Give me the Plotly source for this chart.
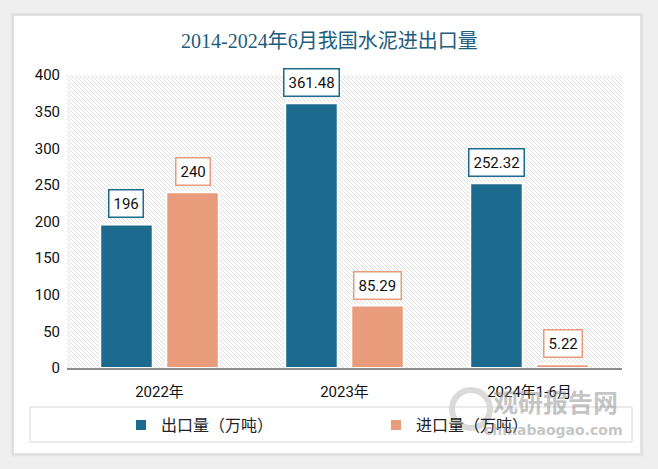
import base64
import plotly.graph_objects as go

categories = ["2022年", "2023年", "2024年1-6月"]
export_vals = [196, 361.48, 252.32]
import_vals = [240, 85.29, 5.22]
export_labels = ["196", "361.48", "252.32"]
import_labels = ["240", "85.29", "5.22"]
series_names = ["出口量（万吨）", "进口量（万吨）"]
title_text = "2014-2024年6月我国水泥进出口量"

C_EXP = "#1c6b8f"
C_IMP = "#e89c7b"

W, H = 658, 469
L, R, T, B = 67, 36, 75, 101
pw, ph = W - L - R, H - T - B

def px(x):  # pixel x -> paper
    return (x - L) / pw

def py(y):  # pixel y (from top) -> paper
    return (H - B - y) / ph

svg = f'''<svg xmlns="http://www.w3.org/2000/svg" width="{pw}" height="{ph}" viewBox="0 0 {pw} {ph}">
<defs><pattern id="p" patternUnits="userSpaceOnUse" width="4" height="4">
<rect width="4" height="4" fill="#ffffff"/>
<path d="M-1,-1 L5,5 M-1,3 L1,5 M3,-1 L5,1" stroke="#dadada" stroke-width="0.9"/>
</pattern></defs>
<rect width="{pw}" height="{ph}" fill="url(#p)"/></svg>'''
src = "data:image/svg+xml;base64," + base64.b64encode(svg.encode()).decode()

BARGAP, GROUPGAP = 0.286, 0.205
OFF = (1 - BARGAP) / 4

fig = go.Figure()
fig.add_bar(x=categories, y=export_vals, name=series_names[0],
            marker=dict(color=C_EXP, line=dict(color="white", width=2)))
fig.add_bar(x=categories, y=import_vals, name=series_names[1],
            marker=dict(color=C_IMP, line=dict(color="white", width=2)))

annotations = []
for i in range(len(categories)):
    for off, vals, labs, col in [(-OFF, export_vals, export_labels, C_EXP),
                                 (OFF, import_vals, import_labels, C_IMP)]:
        annotations.append(dict(
            x=i + off, y=vals[i], xref="x", yref="y", text=labs[i],
            showarrow=False, yanchor="bottom", xanchor="center", yshift=6,
            font=dict(family="Roboto, DejaVu Sans, sans-serif", size=15, color="#111111"),
            bgcolor="white", bordercolor=col, borderwidth=1.5, borderpad=4))

# watermark
annotations.append(dict(xref="paper", yref="paper", x=px(555), y=py(401),
                        text="<b>观研报告网</b>", showarrow=False, xanchor="center", yanchor="middle",
                        font=dict(family="Noto Sans CJK SC", size=25, color="rgba(140,140,140,0.5)")))
annotations.append(dict(xref="paper", yref="paper", x=px(553), y=py(430),
                        text="<b>chinabaogao.com</b>", showarrow=False, xanchor="center", yanchor="middle",
                        font=dict(family="DejaVu Sans", size=14, color="rgba(140,140,140,0.5)")))
annotations.append(dict(xref="paper", yref="paper", x=px(329), y=py(41),
                        text=title_text, showarrow=False, xanchor="center", yanchor="middle",
                        font=dict(family="Liberation Serif, Noto Sans CJK SC", size=20, color="#1d5d7d")))

shapes = []
bg = "#efefef"
for (x0, y0, x1, y1) in [(0, 0, W, 16), (0, 453, W, H), (0, 0, 14, H), (640, 0, W, H)]:
    shapes.append(dict(type="rect", xref="paper", yref="paper", layer="above",
                       x0=px(x0), x1=px(x1), y0=py(y1), y1=py(y0),
                       fillcolor=bg, line=dict(width=0)))
for k, c in enumerate(["#e6e6e6", "#dedede", "#d6d6d6"]):
    d = 3 - k
    shapes.append(dict(type="rect", xref="paper", yref="paper", layer="above",
                       x0=px(14 - d), x1=px(640 + d), y0=py(453 + d), y1=py(16 - d),
                       fillcolor="rgba(0,0,0,0)", line=dict(color=c, width=1)))
# watermark ring (logo)
shapes.append(dict(type="circle", xref="paper", yref="paper", layer="above",
                   x0=px(452), x1=px(490), y0=py(428), y1=py(390),
                   fillcolor="rgba(0,0,0,0)", line=dict(color="rgba(150,150,150,0.35)", width=6)))
# legend box
shapes.append(dict(type="rect", xref="paper", yref="paper", layer="above",
                   x0=px(30), x1=px(632), y0=py(442), y1=py(407),
                   fillcolor="rgba(0,0,0,0)", line=dict(color="#d6d6d6", width=1)))

fig.update_layout(
    width=W, height=H,
    margin=dict(l=L, r=R, t=T, b=B, autoexpand=False),
    paper_bgcolor="white",
    plot_bgcolor="rgba(0,0,0,0)",
    barmode="group", bargap=BARGAP, bargroupgap=GROUPGAP,
    showlegend=True,
    legend=dict(orientation="h", xref="container", yref="container",
                x=121 / W, y=(H - 425) / H,
                xanchor="left", yanchor="middle", entrywidth=210,
                font=dict(family="Noto Sans CJK SC", size=16, color="#222222"),
                bgcolor="rgba(0,0,0,0)", itemsizing="constant"),
    images=[dict(source=src, xref="paper", yref="paper", x=0, y=1, sizex=1, sizey=1,
                 xanchor="left", yanchor="top", sizing="stretch", layer="below")],
    annotations=annotations,
    shapes=shapes,
    xaxis=dict(showline=True, linecolor="#8c8c8c", linewidth=1.5, ticks="",
               tickfont=dict(family="Roboto, DejaVu Sans, Noto Sans CJK SC", size=15, color="#111111"),
               ticklabelstandoff=9),
    yaxis=dict(range=[0, 400], dtick=50, showgrid=False, zeroline=False, showline=False,
               tickfont=dict(family="Roboto, DejaVu Sans", size=15, color="#111111"),
               ticks="", ticklabelstandoff=6),
    font=dict(family="Noto Sans CJK SC"),
)

fig.write_html("out.html", config={"displayModeBar": False},
               post_script="document.body.style.margin='0';document.body.style.overflow='hidden';")
